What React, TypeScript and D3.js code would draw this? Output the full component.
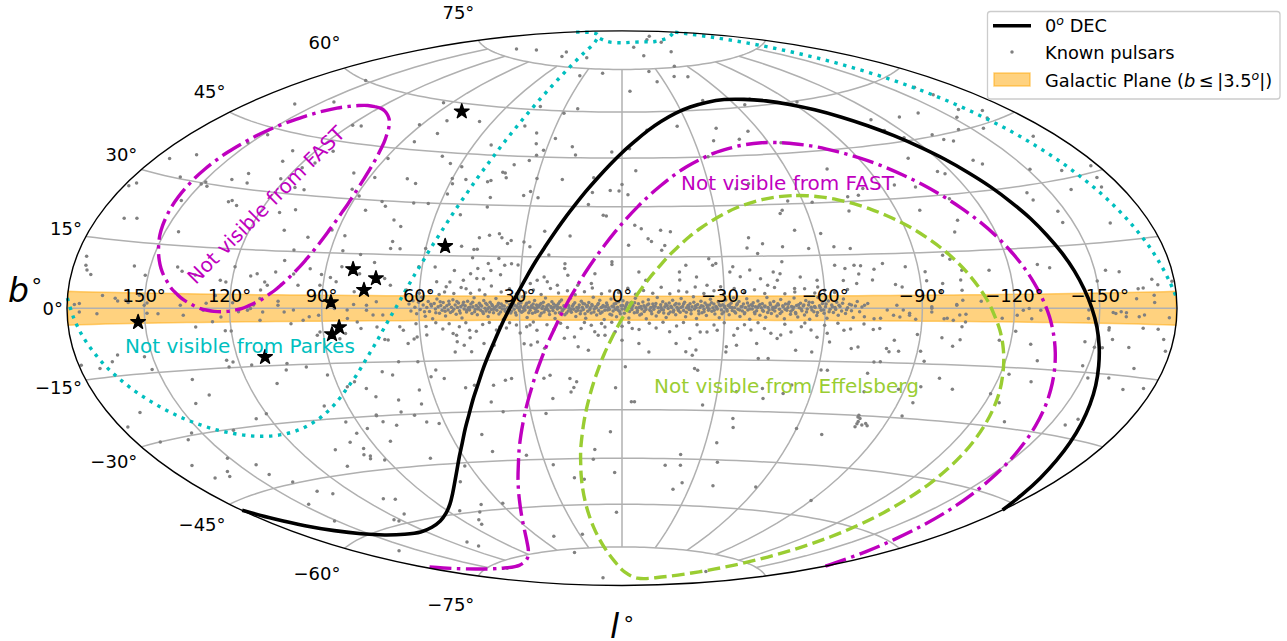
import React from "react";
import * as d3 from "d3";

type P = [number, number];

const decZero: P[] = [[-180,-46.7],[-175.6,-43],[-171.6,-39],[-168,-34.9],[-164.8,-30.7],[-161.8,-26.4],[-159.1,-22.1],[-156.5,-17.7],[-154,-13.3],[-151.7,-8.9],[-149.4,-4.4],[-147.1,0],[-144.8,4.4],[-142.5,8.9],[-140.1,13.3],[-137.6,17.7],[-135.1,22.1],[-132.3,26.4],[-129.4,30.7],[-126.1,34.9],[-122.6,39],[-118.5,43],[-114,46.8],[-108.8,50.4],[-102.7,53.8],[-95.7,56.8],[-87.5,59.3],[-78.2,61.2],[-67.9,62.4],[-57.1,62.9],[-46.2,62.4],[-35.9,61.2],[-26.6,59.3],[-18.5,56.8],[-11.4,53.8],[-5.4,50.4],[-0.1,46.8],[4.4,43],[8.4,39],[12,34.9],[15.2,30.7],[18.2,26.4],[20.9,22.1],[23.5,17.7],[26,13.3],[28.3,8.9],[30.6,4.4],[32.9,0],[35.2,-4.4],[37.5,-8.9],[39.9,-13.3],[42.4,-17.7],[44.9,-22.1],[47.7,-26.4],[50.6,-30.7],[53.9,-34.9],[57.4,-39],[61.5,-43],[66,-46.8],[71.2,-50.4],[77.3,-53.8],[84.3,-56.8],[92.5,-59.3],[101.8,-61.2],[112.1,-62.4],[122.9,-62.9],[133.8,-62.4],[144.1,-61.2],[153.4,-59.3],[161.5,-56.8],[168.6,-53.8],[174.6,-50.4],[179.9,-46.8]];

const fastSouth: P[] = [[-180,-68.5],[-177.6,-67.4],[-170.9,-63.4],[-165.6,-59.3],[-161.4,-55],[-157.9,-50.6],[-154.8,-46.3],[-152,-41.8],[-149.5,-37.4],[-147.1,-32.9],[-144.9,-28.5],[-142.8,-24.1],[-140.6,-19.6],[-138.5,-15.2],[-136.4,-10.8],[-134.3,-6.5],[-132.1,-2.1],[-129.8,2.1],[-127.4,6.3],[-124.9,10.5],[-122.2,14.6],[-119.4,18.6],[-116.3,22.5],[-112.9,26.2],[-109.2,29.8],[-105.2,33.2],[-100.8,36.4],[-95.9,39.4],[-90.5,42],[-84.6,44.2],[-78.3,46.1],[-71.5,47.4],[-64.4,48.3],[-57.1,48.6],[-49.8,48.3],[-42.7,47.4],[-35.9,46.1],[-29.5,44.2],[-23.6,42],[-18.3,39.4],[-13.4,36.4],[-8.9,33.2],[-4.9,29.8],[-1.2,26.2],[2.1,22.5],[5.2,18.6],[8.1,14.6],[10.8,10.5],[13.3,6.3],[15.7,2.1],[17.9,-2.1],[20.1,-6.5],[22.3,-10.8],[24.4,-15.2],[26.5,-19.6],[28.6,-24.1],[30.8,-28.5],[33,-32.9],[35.4,-37.4],[37.9,-41.8],[40.6,-46.3],[43.7,-50.6],[47.3,-55],[51.5,-59.3],[56.7,-63.4],[63.5,-67.4],[72.5,-71],[84.9,-74.1],[102,-76.3],[122.9,-77.2],[143.9,-76.3],[160.9,-74.1],[173.4,-71],[177.5,-69.5]];

const fastNorth: P[] = [[122.9,55.1],[118.8,55],[114.9,54.5],[111.1,53.7],[107.6,52.7],[104.4,51.4],[101.6,49.9],[99.1,48.1],[97,46.3],[95.3,44.3],[93.9,42.2],[92.8,40],[92,37.7],[91.5,35.4],[91.2,33.1],[91.1,30.7],[91.2,28.4],[91.6,26],[92.1,23.7],[92.8,21.5],[93.6,19.3],[94.6,17.1],[95.7,15.1],[97,13.1],[98.4,11.2],[100,9.4],[101.7,7.7],[103.4,6.2],[105.3,4.7],[107.3,3.5],[109.3,2.3],[111.5,1.4],[113.7,.6],[116,-.1],[118.3,-.5],[120.6,-.8],[122.9,-.9],[125.3,-.8],[127.6,-.5],[129.9,-.1],[132.2,.6],[134.4,1.4],[136.5,2.3],[138.6,3.5],[140.6,4.7],[142.4,6.2],[144.2,7.7],[145.9,9.4],[147.4,11.2],[148.8,13.1],[150.1,15.1],[151.3,17.1],[152.3,19.3],[153.1,21.5],[153.8,23.7],[154.3,26],[154.6,28.4],[154.8,30.7],[154.7,33.1],[154.4,35.4],[153.9,37.7],[153,40],[152,42.2],[150.6,44.3],[148.8,46.3],[146.7,48.1],[144.3,49.9],[141.5,51.4],[138.3,52.7],[134.8,53.7],[131,54.5],[127,55],[122.9,55.1]];

const effelsberg: P[] = [[-57.1,32.4],[-52,32.2],[-47,31.6],[-42.1,30.6],[-37.3,29.3],[-32.8,27.6],[-28.5,25.6],[-24.5,23.4],[-20.7,20.9],[-17.2,18.1],[-13.9,15.2],[-10.9,12],[-8,8.7],[-5.4,5.3],[-3,1.8],[-.7,-1.9],[1.4,-5.6],[3.4,-9.5],[5.3,-13.4],[7,-17.4],[8.6,-21.4],[10.1,-25.5],[11.5,-29.6],[12.8,-33.7],[14,-37.9],[15.2,-42.2],[16.1,-46.4],[17,-50.7],[17.7,-55],[18.2,-59.3],[18.4,-63.6],[18.2,-67.9],[17.3,-72.2],[15,-76.4],[9.5,-80.6],[-5.8,-84.5],[-57.1,-86.6],[-108.3,-84.5],[-123.7,-80.6],[-129.1,-76.4],[-131.4,-72.2],[-132.4,-67.9],[-132.6,-63.6],[-132.3,-59.3],[-131.8,-55],[-131.1,-50.7],[-130.3,-46.4],[-129.3,-42.2],[-128.2,-37.9],[-127,-33.7],[-125.7,-29.6],[-124.3,-25.5],[-122.8,-21.4],[-121.1,-17.4],[-119.4,-13.4],[-117.6,-9.5],[-115.6,-5.6],[-113.4,-1.9],[-111.2,1.8],[-108.7,5.3],[-106.1,8.7],[-103.3,12],[-100.2,15.2],[-96.9,18.1],[-93.4,20.9],[-89.6,23.4],[-85.6,25.6],[-81.3,27.6],[-76.8,29.3],[-72.1,30.6],[-67.2,31.6],[-62.2,32.2],[-57.1,32.4]];

const parkesA: P[] = [[180,2.1],[177.4,-2],[175,-5.6],[172.3,-9.1],[169.5,-12.4],[166.4,-15.5],[163.1,-18.5],[159.6,-21.2],[155.8,-23.8],[151.8,-26.1],[147.4,-28.1],[142.9,-29.8],[138.1,-31.1],[133.2,-32.1],[128.1,-32.7],[122.9,-32.9],[117.8,-32.7],[112.7,-32.1],[107.8,-31.1],[103,-29.8],[98.4,-28.1],[94.1,-26.1],[90.1,-23.8],[86.3,-21.2],[82.7,-18.5],[79.4,-15.5],[76.4,-12.4],[73.5,-9.1],[70.9,-5.6],[68.4,-2],[66.1,1.6],[64,5.4],[62,9.3],[60.1,13.2],[58.4,17.2],[56.7,21.2],[55.2,25.3],[53.8,29.4],[52.4,33.6],[51.2,37.8],[50,42.1],[49,46.3],[48.1,50.6],[47.3,54.9],[46.7,59.2],[46.3,63.6],[46.3,67.9],[46.9,72.2],[48.8,76.5],[53.4,80.8],[67.3,84.8],[122.9,87.1],[178.6,84.8]];
const parkesB: P[] = [[-180,84.5],[-167.5,80.8],[-162.9,76.5],[-161.1,72.2],[-160.5,67.9],[-160.4,63.6],[-160.8,59.2],[-161.4,54.9],[-162.2,50.6],[-163.1,46.3],[-164.2,42.1],[-165.3,37.8],[-166.6,33.6],[-167.9,29.4],[-169.4,25.3],[-170.9,21.2],[-172.5,17.2],[-174.3,13.2],[-176.1,9.3],[-178.1,5.4],[-180,2.1]];
const parkesC: P[] = [[76,86.2],[55,85.8],[31,85.3],[0,85.2],[-28.6,85.3],[-60,85],[-81.8,84.6],[-130,84.6],[-170,84.7]];

const highlighted: P[] = [[79.4,57.5],[54.1,17.7],[81.3,10.7],[73.7,8.3],[77,5],[87.1,1.6],[84.8,-5.2],[87.3,-7.1],[152.5,-3.2],[110.6,-12.7]];

const pulsarsOuter: P[] = [[160,50.9],[145,53.8],[148,43.3],[119,49.5],[115,49.7],[154,60],[85,47.3],[91,52.3],[129,40.8],[113,42.2],[128,37.9],[115,38.6],[118,37],[89,41.9],[174,33.5],[165,35.6],[151,40.6],[97,37.1],[136,33.8],[140,31.8],[122,33.6],[88,36.3],[76,36.6],[72,35.4],[161,30.4],[149,30.3],[150,29.7],[133,31.5],[147,29.4],[114,31.8],[110,31.4],[93,32.6],[89,30.9],[178,26.4],[176,27.3],[152,25.4],[134,26.5],[133,26.9],[130,25.8],[108,26],[113,25],[80,29.8],
[78,28.5],[84,27.1],[69,29.8],[64,29.8],[131,77.4],[112,78.7],[76,80],[71,78.4],[42,78.9],[-22,83.3],[-110,86.5],[-74,85.6],[-89,84],[-28,79.9],[-69,80.4],[-49,75.4],[-23,74.1],[-40,71.8],[-50,71.4],[16,73.5],[33,72.3],[-25,70.3],[-5,67.2],[94,59.3],[43,61.1],[23,60.9],[29,59.3],[-45,63.1],[-71,62.3],[-65,60.7],[-93,59.7],[81,54.3],[66,55],[44,54.6],[-25,55],[-38,50],[-42,53.9],[-11,53.9],[79,50.3],[37,52.5],[-55,52.4],[-49,50.1],
[28,51],[35,49.1],[20,48.5],[53,48.1],[-65,48.2],[4,46.9],[-3,48],[31,47.1],[33,45.5],[18,45.9],[69,43.8],[-33,45],[64,41.8],[59,41],[40,42.3],[35,43.8],[-5,41],[-75,39.6],[43,39.9],[42,39.7],[41,38.3],[55,37.3],[47,36.9],[46,37.3],[30,38.3],[21,38.2],[10,38.8],[60,37.4],[59,35.9],[0,36.8],[4,34.9],[1,34.8],[10,34.3],[-39,35],[-44,36.4],[59,32.8],[33,33.1],[31,34.3],[-2,33.6],[44,32.2],[28,32.5],[-63,30.2],
[-55,30.9],[-76,31.3],[-80,31.6],[11,30.6],[44,29.4],[-52,28.2],[-51,27.3],[-74,27.3],[6,27.4],[52,26.9],[-114,51.8],[-128,51.1],[-139,51],[-159,49.3],[-168,47.5],[-164,45.9],[-152,47.9],[-155,44.2],[-144,45.3],[-130,45.4],[-132,43.8],[-135,43],[-117,45.9],[-170,39.8],[-109,40.5],[-133,37.7],[-135,36.5],[-151,33.4],[-163,31.8],[-177,31.3],[-115,36.2],[-117,35.4],[-95,33.7],[-102,32.7],[-83,33.4],[-174,28.8],[-172,26.8],[-159,27.5],[-141,28.3],[-141,26.4],[-111,28.9],[-98,26.4],
[-147,23.1],[-162,56.2],[-162,53.6],[-113,48.5],[176,11],[175,9.1],[174,8.1],[172,7.2],[156,9.6],[169,19.8],[164,20.2],[145,18.2],[140,9.9],[138,8.9],[133,8.1],[108,20.5],[99,19],[92,21.2],[87,19.8],[73,24.7],[68,16.7],[70,23],[71,18.7],[102,15.4],[86,15.7],[80,14.8],[71,16.7],[60,16.9],[104,12.6],[100,9.1],[106,9.5],[112,8.9],[114,8.3],[120,10.5],[124,7],[122,6.6],[109,6.8],[108,6],[95,10.6],[91,9.1],[88,8.3],[86,7.2],[85,11.3],
[75,12.7],[61,11.7],[71,8.3],[79,9.5],[80,4.5],[110,4.7],[91,6.2],[98,6.1],[104,1.8],[110,2.5],[161,2.2],[160,1.6],[166,2.8],[151,7.6],[149,1.2],[152,3],[157,1.8],[175,1],[177,.8],[69,6.4],[175,-.8],[168,-1.2],[149,-1.2],[145,-1.3],[150,.7],[156,1.3],[137,.7],[136,-1.7],[129,-.5],[126,-3.4],[123,-2.2],[117,-.9],[113,-.1],[109,-1],[104,.8],[102,-1],[99,-.5],[96,-3.2],[94,-2.3],[91,-1.9],
[86,-.1],[82,-.5],[80,1],[76,.8],[74,-1.9],[73,1.8],[71,-1.9],[82,-2.8],[79,-3.8],[100,-4.1],[110,-3.1],[119,1.4],[125,3.2],[112,.8],[114,-.5],[128,1.2],[76,-.6],[122,-5.7],[71,-8.7],[120,-5.8],[132,-4.6],[66,-5.2],[70,-8.9],[64,-9.9],[62,-8.7],[61,-8.1],[65,-6.2],[58,-7.6],[73,-5.2],[78,-5.6],[92,-7.3],[91,-6.4],[85,-8.3],[83,-6.9],[104,-14.6],[105,-16.3],[98,-15.7],[124,-13.1],[124,-14.8],[122,-13.6],[116,-14.6],[139,-17.3],[136,-21.3],
[143,-23],[167,-23.3],[153,-11.2],[163,-10.4],[166,-11.8],[179,-11.9],[172,-13],[152,-14.2],[120,-27.2],[125,-28.2],[110,-19.7],[92,-18.1],[87,-21.5],[84,-20.2],[81,-22.2],[79,-24.6],[74,-17.7],[71,-18.7],[68,-15],[62,-15.1],[64,-23.2],[65,-27.2],[77,-32.9],[98,-26.4],[94,-31.1],[88,-33.3],[73,-29.2],[82,-29.7],[81,-31.7],[69,-30.3],[66,-32.4],[82,-29.9],[72,-25.8],[44,20.3],[41,21.1],[38,21.6],[37,20.4],[34,19.7],[35,18.8],[30,19.3],[28,17.9]];

const pulsarsMiddle: P[] = [[49,17.8],[45,16.9],[44,17],[45,14.5],[56,11.7],[50,10.8],[47,8],[45,9.9],[43,11.4],[40,12.9],[39,10.9],[37,14.4],[35,12.4],[33,12.9],[31,12.5],[36,9.7],[43,8.5],[41,8.5],[51,7.5],[55,7.5],[46,5.6],[52,6.1],[24,22.5],[22,15.5],[17,13],[17,11.6],[16,21.2],[5,27.2],[-4,24.4],[-6,23.4],[-8,20.4],[-9,19.6],[-12,22.9],[-13,18.4],[-2,18.5],[3,13.6],[3,12.8],[8,10.1],[16,9.6],[23,9.1],[22,7.7],
[19,6.7],[25,8.1],[27,7.2],[13,6.7],[9,7.2],[-5,10.6],[-7,8.2],[-12,17],[-19,12.5],[-17,10.6],[-17,8.2],[-22,9.1],[-26,14.4],[-28,13],[-27,12.5],[-33,12],[-32,10.5],[-25,6.7],[-29,6.2],[-39,20.4],[-38,17.4],[-43,18.6],[-49,17.6],[-54,22.3],[-57,17],[-64,12.1],[-67,11.1],[-70,12],[-47,9.9],[-38,11],[-41,8.5],[-46,8],[-53,8.9],[-58,7.9],[-62,21.2],[-65,17.3],[-70,16.7],[-41,15.8],[-48,13.3],
[-45,10.4],[-66,7.8],[-70,6.9],[-15,22.4],[-35,9.1],[-43,6.6],[-58,6],[-51,5.6],[50,-7.2],[49,-7.7],[49,-9.6],[45,-8.5],[45,-6.3],[50,-12.5],[45,-12.5],[47,-10.6],[41,-10.2],[38,-10.7],[36,-5.4],[37,-6.3],[34,-5.7],[31,-4.9],[28,-5.4],[27,-4.9],[25,-6.4],[29,-10.3],[27,-10.7],[25,-9.8],[23,-11.7],[17,-8.8],[14,-8.4],[12,-5.9],[9,-5],[8,-6.9],[5,-5.5],[7,-7.9],[13,-11.3],[10,-12.3],[5,-7.9],[0,-9.4],[-5,-10.3],
[-8,-12.8],[2,-6.9],[-3,-5.9],[-14,-6.9],[-16,-10.3],[-22,-12.2],[-21,-13.7],[-19,-12.7],[-23,-6.9],[-25,-6.9],[-31,-11.2],[-31,-12.7],[-34,-10.7],[-33,-7.8],[-34,-5.9],[-38,-6.3],[-40,-10.2],[-44,-14.5],[-41,-14.5],[-46,-8.7],[-47,-7.7],[-52,-12],[-57,-12.4],[-56,-6.2],[-61,-7.1],[-66,-6.2],[-69,-11.3],[-71,-10.8],[-27,-4.9],[-42,-5.8],[-53,-5.3],[-62,-9.5],[59,-19.5],[55,-20.1],[57,-17.6],[34,-20.4],[36,-20.9],[40,-22.3],
[46,-22.2],[49,-22.9],[24,-20.5],[15,-23.3],[14,-21.6],[16,-20.6],[22,-19.6],[16,-24.6],[22,-26.5],[25,-31],[42,-27.2],[39,-30.2],[62,-33],[-4,-27.6],[-3,-27.6],[2,-23.4],[-1,-17.2],[-22,-17.6],[-23,-18.1],[-26,-28.4],[-36,-24.3],[-44,-23.2],[-61,-17.5],[-63,-17.5],[-53,-22],[-51,-24.5],[-45,-26.1],[-37,-32.3],[-79,-30.4],[-80,-32.3],[-80,-33.2],[-77,-23.3],[-88,-22.2],[-109,23.1],[-106,20.1],[-146,20.4],[-164,19.1],[-76,-18.1],[-77,-14.9],[-99,14.1],
[-101,13],[-72,11.8],[-76,10.8],[-79,12.3],[-86,11.3],[-92,9.8],[-113,9.8],[-104,10],[-103,7.4],[-92,7.4],[-130,10.8],[-134,9.9],[-154,8.7],[-159,8.2],[-150,6.3],[-171,6.2],[-173,5],[-179,5.6],[-165,4.3],[-167,4.4],[-97,6.6],[-84,5.8],[-82,6.5],[-75,7.8],[-71,9.5],[-103,4.7],[-96,4.4],[-93,0],[-101,1],[-103,2.1],[-109,1.8],[-164,2.1],[-171,1.2],[-171,2.8],[-72,.8],[-73,1.3],[-79,-.5],[-82,.8],[-84,-.5],[-86,-1.4],
[-81,-1.9],[-77,-2.8],[-75,-2.9],[-72,-2.4],[-83,-2.4],[-86,-1.9],[-88,-3],[-93,-1],[-93,.4],[-97,-2.8],[-98,-2.7],[-100,-3.2],[-101,.8],[-102,-1.8],[-104,-1.6],[-104,-3.6],[-116,-2.6],[-121,-1.8],[-123,-.5],[-125,-.1],[-126,-2.6],[-129,-.5],[-146,-.4],[-155,-1],[-156,-1.2],[-158,-.8],[-160,-1],[-160,-1.9],[-165,-1.9],[-167,-1.5],[-177,-2],[-146,-2.4],[-75,-5.9],[-77,-5.6],[-82,-8.8],[-81,-12],[-80,-11.1],[-84,-11.8],[-89,-7.1],
[-91,-11.6],[-97,-7.9],[-101,-10.1],[-103,-8.3],[-103,-4.9],[-116,-8.2],[-121,-5.8],[-127,-9],[-146,-7.9],[-150,-9.1],[-153,-9.1],[-154,-4.5],[-154,-5],[-156,-7.1],[-163,-8.7],[-167,-4.4],[-173,-4.5],[-176,-6.6],[-178,-9],[-93,-14.3],[-79,-14.8],[-131,-13],[-148,-13.5],[-168,-13.2],[-160,-15.8],[-152,-16.2],[-123,-16.7],[-132,-18.2],[-100,-18.7],[-106,-21.4],[-95,-21.2],[-176,-17.1],[-168,-17.9],[-120,-21.9],[-125,-24],[-95,-25.6],[-94,-29.4],[-159,-25.6],[-156,-27.3],[-80,-30.8],[-83,-32.1],
[-82,-32.6],[-80,-31.7],[-84,-32.7],[-79,-29.9],[-132,-28.5],[177,-25.7],[170,-30],[158,-30.8],[169,-36.1],[154,-29.5],[137,-30.3],[151,-36.4],[158,-39.1],[160,-40.2],[167,-39.7],[143,-39.1],[143,-41.8],[138,-44.6],[134,-47.9],[129,-49.2],[147,-50.2],[106,-38.3],[108,-43],[96,-41.7],[91,-42.4],[93,-34.4],[98,-36.7],[83,-37.3],[95,-38.7],[97,-40.4],[95,-40.9],[111,-52.8],[106,-53.4],[113,-57.6],[123,-58.5],[122,-59.1],[151,-55.1],
[160,-65],[49,-36.8],[48,-42],[73,-43],[62,-46],[69,-50.6],[36,-43.6],[27,-46.8],[20,-51.1],[16,-51.6],[10,-42.2],[11,-45.3],[4,-36.7],[3,-49.5],[3,-62.7],[-17,-47.1],[-23,-47],[-22,-43.6],[-34,-39.7],[-37,-45.7],[-38,-35],[-60,-34.6],[-70,-36],[-26,-52.6],[-23,-54.8],[-40,-53.2],[-59,-52.8],[-90,-55.2],[70,-58],[84,-59.1],[75,-60.2],[81,-62.5],[83,-63.9],[59,-58.2],[111,-68.1],[110,-69.8],[49,-70.2],[28,-70.1],[47,-76.3],[140,-76.8],[66,-86.3],[-129,-80]];

const pulsarsPlane: P[] = [[63,1.2],[62.4,-.8],[61.8,2.1],[61.2,.3],[60.7,-1.6],[60.1,1.7],[59.6,-.4],[59.2,3.1],[58.7,.9],[58.1,-2.3],[57.6,.2],[57.2,1.9],[56.8,-.9],[56.2,.6],[55.9,-3],[55.4,1.3],[55,-.2],[54.6,2.6],[54.2,.4],[53.8,-1.4],[53.4,.8],[53,-.6],[52.7,1.6],[52.3,.1],[52,-2.2],[51.6,.7],[51.2,-.5],[50.9,1.1],[50.5,-1.2],[50.2,.3],[49.8,2.4],[49.5,-.3],[49.1,.9],[48.8,-1.7],[48.4,.2],[48.1,1.5],[47.8,-.7],[47.4,.5],[47.1,-2.8],[46.8,1],[46.4,-.2],[46.1,.7],[45.7,-1.1],[45.4,2],[45.1,.1],[44.8,-.5],[44.4,1.2],[44.1,-1.5],[43.8,.4],[43.5,3],[43.1,-.3],[42.8,.8],[42.5,-1.9],[42.2,.2],[41.9,1.4],[41.5,-.6],[41.2,.6],[40.9,-1],[40.6,2.2],[40.2,0],[39.9,-.8],[39.6,1],[39.3,-2.4],[39,.3],[38.7,1.7],[38.3,-.4],[38,.7],[37.7,-1.3],[37.4,.1],[37,2.8],[36.7,-.6],[36.4,.9],[36.1,-1.7],[35.8,.2],[35.4,1.2],[35.1,-.2],[34.8,-3.2],[34.5,.6],[34.2,-.9],[33.8,1.8],[33.5,.1],[33.2,-.5],[32.9,1.1],[32.6,-1.4],[32.2,.4],[31.9,2.5],[31.6,-.3],[31.3,.8],[31,-2],[30.6,.2],[30.3,1.3],[30,-.7],[29.7,.5],[29.4,-1.2],[29.1,3.3],[28.8,0],[28.4,-.5],[28.1,1],[27.8,-2.7],[27.5,.3],[27.2,1.7],[26.9,-.6],[26.5,.7],[26.2,-1.5],[25.9,.1],[25.6,2.2],[25.3,-.3],[25,.9],[24.7,-.9],[24.3,.4],[24,-2.2],[23.7,1.4],[23.4,-.1],[23.1,.6],[22.8,-1.1],[22.4,3],[22.1,.2],[21.8,-.4],[21.5,1],[21.2,-1.8],[20.8,.5],[20.5,1.9],[20.2,-.7],[19.9,.3],[19.6,-3],[19.3,.8],[18.9,-.2],[18.6,1.3],[18.3,-1.3],[18,.1],[17.7,2.4],[17.3,-.5],[17,.7],[16.7,-1.9],[16.4,.4],[16.1,1.1],[15.7,-.8],[15.4,0],[15.1,2.9],[14.8,-1.2],[14.5,.6],[14.1,-.3],[13.8,1.6],[13.5,-2.4],[13.2,.2],[12.9,-.6],[12.5,.9],[12.2,-1.6],[11.9,2],[11.6,.3],[11.3,-.4],[10.9,1.2],[10.6,-2.9],[10.3,.5],[10,-.9],[9.7,1.7],[9.3,.1],[9,-1.4],[8.7,.7],[8.4,3.2],[8.1,-.2],[7.7,.4],[7.4,-2],[7.1,1],[6.8,-.7],[6.5,2.3],[6.1,.2],[5.8,-1.1],[5.5,.8],[5.2,-3.3],[4.8,.4],[4.5,1.5],[4.2,-.5],[3.9,.1],[3.5,-1.8],[3.2,2.7],[2.9,.6],[2.6,-.8],[2.3,1.2],[1.9,-.3],[1.6,-2.5],[1.3,.3],[1,1.9],[.7,-1],[.3,.7],[0,-.2],[-.3,2.2],[-.7,-1.5],[-1,.4],[-1.3,1.1],[-1.6,-.6],[-2,-2.9],[-2.3,.2],[-2.6,1.6],[-2.9,-.4],[-3.2,.8],[-3.6,-1.3],[-3.9,2.9],[-4.2,.1],[-4.5,-.7],[-4.8,1.3],[-5.2,-2],[-5.5,.5],[-5.8,-.2],[-6.1,1.8],[-6.5,-1],[-6.8,.3],[-7.1,-3.1],[-7.4,.9],[-7.7,2.5],[-8.1,-.5],[-8.4,.2],[-8.7,-1.6],[-9,1.2],[-9.3,-.3],[-9.7,.6],[-10,-2.3],[-10.3,3.1],[-10.6,.1],[-10.9,-.9],[-11.3,1],[-11.6,-.4],[-11.9,1.9],[-12.2,-1.4],[-12.5,.4],[-12.9,-2.7],[-13.2,.7],[-13.5,-.1],[-13.8,1.5],[-14.1,-1.1],[-14.5,.2],[-14.8,2.3],[-15.1,-.6],[-15.4,.9],[-15.7,-1.9],[-16.1,.3],[-16.4,-.3],[-16.7,1.2],[-17,-1.2],[-17.3,2.8],[-17.7,.5],[-18,-.7],[-18.3,1.7],[-18.6,-2.5],[-18.9,.1],[-19.3,.8],[-19.6,-.4],[-19.9,1.3],[-20.2,-1.6],[-20.5,.4],[-20.9,3.3],[-21.2,-.2],[-21.5,.7],[-21.8,-3],[-22.1,1.1],[-22.4,-.8],[-22.8,.2],[-23.1,2],[-23.4,-1.3],[-23.7,.6],[-24,-.3],[-24.3,1.5],[-24.7,-2.1],[-25,.3],[-25.3,-.6],[-25.6,.9],[-25.9,2.6],[-26.3,-.9],[-26.6,.1],[-26.9,1.2],[-27.2,-1.7],[-27.5,.5],[-27.9,-.2],[-28.2,1.8],[-28.5,-2.8],[-28.8,.7],[-29.1,-.5],[-29.5,1],[-29.8,-1.1],[-30.1,.2],[-30.4,2.4],[-30.7,-.4],[-31.1,.8],[-31.4,-1.9],[-31.7,.3],[-32,1.5],[-32.3,-.7],[-32.7,3],[-33,.1],[-33.3,-1.4],[-33.6,.9],[-34,-.3],[-34.3,1.9],[-34.6,-2.4],[-34.9,.4],[-35.3,-.8],[-35.6,1.2],[-35.9,-1.6],[-36.2,.2],[-36.6,2.7],[-36.9,-.5],[-37.2,.6],[-37.5,-3.2],[-37.9,1],[-38.2,-.2],[-38.5,1.6],[-38.9,-1.2],[-39.2,.4],[-39.5,-.7],[-39.9,2.1],[-40.2,.7],[-40.5,-2],[-40.9,.1],[-41.2,1.3],[-41.5,-.9],[-41.9,.5],[-42.2,-2.6],[-42.6,3.1],[-42.9,.2],[-43.2,-.5],[-43.6,1],[-43.9,-1.5],[-44.3,.3],[-44.6,1.9],[-44.9,-.8],[-45.3,.6],[-45.6,-2.2],[-46,.9],[-46.3,-.3],[-46.7,2.5],[-47,-1],[-47.4,.4],[-47.8,-3],[-48.1,1.2],[-48.5,-.6],[-48.8,.2],[-49.2,1.7],[-49.6,-1.7],[-49.9,.5],[-50.3,-.4],[-50.7,2.9],[-51.1,-1.2],[-51.4,.8],[-51.8,-2.5],[-52.2,.1],[-52.6,1.4],[-53,-.7],[-53.4,.6],[-53.8,-1.9],[-54.2,2.2],[-54.6,-.2],[-55,.9],[-55.4,-3.1],[-55.8,.3],[-56.2,1.6],[-56.6,-1],[-57,.2],[-57.5,-2.1],[-57.9,3],[-58.3,.7],[-58.8,-.6],[-59.2,1.3],[-59.7,-1.4],[-60.1,.4],[-60.6,-2.8],[-61,2],[-61.5,-.3],[-62,.9],[-62.5,-1.2],[-63,.2],[-63.5,1.7],[-64,-2],[-64.5,.5],[-65,-.8],[-65.6,2.6],[-66.2,-1.5],[-66.8,.1],[-67.4,1.1],[-68,-.7],[-68.6,-2.6],[-69.2,.6],[-69.8,1.9],[-70.5,-1],[-71.2,.3]];

const pulsarsPlaneDense: P[] = [[58.3,-1],[56.4,1.1],[54.9,-1.3],[53.6,1.8],[52.1,-.9],[51,2],[49.9,-.9],[48.6,1.9],[47.6,-1.4],[46.6,1.7],[45.6,-.6],[44.7,.3],[43.9,1.7],[43.3,-1],[42.3,-.2],[41.6,.9],[40.7,-1.5],[40,1.4],[39.4,-.2],[38.9,-1.1],[38.2,1.1],[37.6,-.3],[36.9,.5],[36.2,1.4],[35.6,-1.1],[35,.7],[34.4,-.3],[33.7,-1.6],[33,.3],[32.4,-.9],[31.8,1.2],[31.2,-1.3],[30.8,.6],[30.1,-.2],[29.6,1.5],[29,-.9],[28.6,.4],[27.9,1.4],[27.3,-1.3],[26.7,.2],[26,1.2],[25.4,-1.2],[24.9,.2],[24.1,.9],[23.6,-1.5],[23,1.7],[22.5,-.4],[21.9,.7],[21.3,-.9],[20.6,.1],[20,1.2],[19.5,-1.4],[18.8,.4],[18.2,1.9],[17.5,-.8],[16.9,-.1],[16.2,-1.4],[15.6,.8],[14.9,-.4],[14.2,1.1],[13.4,-.9],[12.7,.2],[12,-.8],[11.4,1.4],[10.8,-1.6],[10.1,.8],[9.4,-.4],[8.8,1.1],[8.2,-1.1],[7.5,.1],[6.9,1.4],[6.3,-1.5],[5.7,.4],[5,-.6],[4.3,.9],[3.7,-.4],[3,-2],[2.4,.4],[1.8,1.4],[1.1,-.6],[.5,-1.6],[-.2,.8],[-.9,-.3],[-1.5,1.6],[-2.2,-1],[-3,.5],[-3.7,1.6],[-4.4,-1.2],[-5,.2],[-5.7,-1.7],[-6.4,.7],[-7,-.4],[-7.8,1.2],[-8.5,-.9],[-9.2,.5],[-9.9,1.4],[-10.7,-1.2],[-11.4,.3],[-12.1,-.5],[-12.8,1.2],[-13.6,-1.6],[-14.3,.6],[-15,-1.1],[-15.8,1.4],[-16.5,-.7],[-17.2,.2],[-18,1.2],[-18.8,-1.2],[-19.5,.4],[-20.2,-.6],[-21,1.7],[-21.7,.2],[-22.5,-1.6],[-23.2,.7],[-24,-1],[-24.8,.9],[-25.5,-.2],[-26.2,1.6],[-27,-.6],[-27.7,.2],[-28.5,1],[-29.3,-1.6],[-30,.6],[-30.8,-.8],[-31.5,1],[-32.2,.2],[-33,-1],[-33.8,1.3],[-34.5,-.5],[-35.2,.5],[-36,-1.3],[-36.8,1.5],[-37.5,-.2],[-38.3,.7],[-39,-1.6],[-39.8,.2],[-40.5,1.1],[-41.3,-.6],[-42,.6],[-42.8,-1.2],[-43.5,1.5],[-44.3,-.4],[-45,.2],[-45.8,1.3],[-46.5,-1.5],[-47.3,.7],[-48,-.3],[-48.9,1.1],[-49.7,-.9],[-50.5,.3],[-51.2,-1.6],[-52,1],[-52.8,-.2],[-53.6,.9],[-54.4,-1.1],[-55.2,1.7],[-56,-.5],[-56.8,.5],[-57.7,-1.2],[-58.5,.2],[-59.5,-.5],[-60.3,1.2],[-61.2,-1],[-62.2,.4],[-63.2,-.4],[-64.2,.8],[-65.3,1.4],[-66.5,-.4],[-68,.9]];

const pulsarsNearPlane: P[] = [[64,5.1],[60,4.2],[57,4.8],[54,3.9],[52.4,4.6],[49.6,4.2],[47.5,5.9],[44.6,4.3],[42,5.2],[40.3,3.9],[38.5,6.4],[35.5,4.7],[33.1,5.6],[31,4.1],[28.3,4.5],[26,5.3],[23.7,4],[21,5.7],[18.6,4.4],[16,5.1],[13.7,3.9],[11,4.8],[8.7,5.9],[6,4.2],[3.6,5],[1,4.6],[-1.7,5.8],[-4,4.1],[-6.3,5.2],[-9,4.4],[-11.5,6.1],[-14,4.2],[-16.6,5],[-19,4.7],[-21.5,6.2],[-24,4.3],[-27,5.1],[-30,4.2],[-33,5.7],[-36,4.5],[-39,5.3],[-42,4.2],[-45,5.9],[-48,4.1],[-51,4.6],[-54,5.5],[-57,4.3],[-60,5.1],[-63,4.4],[-67,5.2],[61,-4.4],[58,-5.2],[55,-4.1],[53,-5.9],[51,-4.4],[48,-5.3],[46,-4.2],[43,-6.6],[41,-4.7],[39,-4.1],[33,-4.2],[30,-7.2],[26,-4],[22,-4.8],[20,-6.2],[18,-4.4],[16,-5.6],[11,-4.2],[6,-4.5],[3,-4.1],[0,-5.3],[-2,-4.2],[-5,-6.2],[-8,-4.4],[-10,-5.8],[-12,-4.1],[-16,-5.2],[-18,-4.2],[-20,-8.8],[-22,-4.8],[-28,-6.4],[-30,-4.2],[-36,-4.8],[-40,-4.2],[-44,-7.2],[-48,-4.6],[-50,-6.8],[-54,-4.2],[-58,-8.2],[-60,-4.8],[-64,-4.2],[-68,-5.8],[-72,-4.4]];

const lonTicks = [150, 120, 90, 60, 30, 0, -30, -60, -90, -120, -150];
const latTicks = [75, 60, 45, 30, 15, 0, -15, -30, -45, -60, -75];
const DEG = Math.PI / 180;
const GRID = "#b0b0b0";
const MAGENTA = "#bf00bf";
const CYAN = "#00bfbf";
const GREEN = "#9acd32";
const ORANGE = "#ffa500";
const FONT = "'DejaVu Sans'";

const xS = d3.scaleLinear().domain([-1, 1]).range([622 + 555, 622 - 555]);
const yS = d3.scaleLinear().domain([-1, 1]).range([308.2 + 277.3, 308.2 - 277.3]);
function hammer(l: number, b: number): P {
  const c = Math.cos(b * DEG), d = Math.sqrt(1 + c * Math.cos((l * DEG) / 2));
  return [(c * Math.sin((l * DEG) / 2)) / d, Math.sin(b * DEG) / d];
}
const px = (d: P) => xS(hammer(d[0], d[1])[0]);
const py = (d: P) => yS(hammer(d[0], d[1])[1]);
const smooth = d3.line<P>().x(px).y(py).curve(d3.curveCatmullRom.alpha(0.5));
const straight = d3.line<P>().x(px).y(py);

const meridians = lonTicks.map((l) => d3.range(-75, 75.1, 3).map((b): P => [l, b]));
const parallels = latTicks.map((b) => d3.range(-180, 180.1, 4).map((l): P => [l, b]));
const bandTop = d3.range(-180, 180.1, 5).map((l): P => [l, 3.5]);
const bandBottom = d3.range(180, -180.1, -5).map((l): P => [l, -3.5]);
const star = d3.symbol().type(d3.symbolStar).size(66)();
const allPulsars = [...pulsarsOuter, ...pulsarsMiddle, ...pulsarsPlane, ...pulsarsPlaneDense, ...pulsarsNearPlane];

const W = 3.4;
const dashDot = `${6.4 * W} ${1.6 * W} ${W} ${1.6 * W}`;
const dashed = `${3.7 * W} ${1.6 * W}`;
const dotted = `${W} ${1.65 * W}`;

export default function App() {
  return (
    <svg width={1287} height={641} style={{ position: "absolute", left: 0, top: 0, fontFamily: FONT }}>
      <rect width={1287} height={641} fill="#fff" />
      <path d={straight([...bandTop, ...bandBottom])! + "Z"} fill={ORANGE} fillOpacity={0.5} stroke={ORANGE} strokeOpacity={0.5} strokeWidth={1.5} />
      <g fill="none" stroke={GRID} strokeWidth={1.5}>
        {meridians.map((m, i) => <path key={i} d={straight(m)!} />)}
        {parallels.map((m, i) => <path key={i} d={straight(m)!} />)}
      </g>
      <g fill="#808080">
        {allPulsars.map((d, i) => <circle key={i} cx={px(d)} cy={py(d)} r={1.75} />)}
      </g>
      <g fill="none">
        <path d={smooth(parkesA)!} stroke={CYAN} strokeWidth={W} strokeDasharray={dotted} />
        <path d={smooth(parkesB)!} stroke={CYAN} strokeWidth={W} strokeDasharray={dotted} />
        <path d={smooth(parkesC)!} stroke={CYAN} strokeWidth={W} strokeDasharray={dotted} />
        <path d={smooth(effelsberg)!} stroke={GREEN} strokeWidth={W} strokeDasharray={dashed} />
        <path d={smooth(fastSouth)!} stroke={MAGENTA} strokeWidth={W} strokeDasharray={dashDot} />
        <path d={smooth(fastNorth)!} stroke={MAGENTA} strokeWidth={W} strokeDasharray={dashDot} />
        <path d={smooth(decZero)!} stroke="#000" strokeWidth={3.6} />
      </g>
      {highlighted.map((d, i) => <path key={i} d={star!} transform={`translate(${px(d)},${py(d)})`} fill="#000" stroke="#000" strokeWidth={1.4} strokeLinejoin="round" />)}
      <ellipse cx={622} cy={308.2} rx={555} ry={277.3} fill="none" stroke="#000" strokeWidth={1.4} />

      <g fontSize={18} fill="#000">
        {lonTicks.map((l) => (
          <text key={l} x={px([l, 0])} y={302} textAnchor="middle">{(l < 0 ? "\u2212" + -l : l) + "\u00b0"}</text>
        ))}
        {latTicks.map((b) => (
          <text key={b} x={px([180, b])! - 4} y={308.2 - 306.5 * Math.sin(b * DEG) + 6.5} textAnchor="end">{(b < 0 ? "\u2212" + -b : b) + "\u00b0"}</text>
        ))}
      </g>

      <text x={8} y={302} fontSize={33} fontStyle="italic">b</text>
      <text x={31.5} y={293.5} fontSize={21}>°</text>
      <text x={610} y={638} fontSize={33} fontStyle="italic">l</text>
      <text x={623.5} y={631.5} fontSize={21}>°</text>

      <g fontSize={20}>
        <text x={125} y={353} fill={CYAN}>Not visible from Parkes</text>
        <text x={681} y={190} fill={MAGENTA}>Not visible from FAST</text>
        <text x={654} y={393} fill={GREEN}>Not visible from Effelsberg</text>
        <text transform="translate(266,205) rotate(-45)" textAnchor="middle" dominantBaseline="central" fill={MAGENTA}>Not visible from FAST</text>
      </g>

      <g>
        <rect x={987.5} y={11.5} width={292.5} height={87.5} rx={3} fill="#fff" fillOpacity={0.8} stroke="#ccc" strokeWidth={1.3} />
        <line x1={993} x2={1031} y1={25.7} y2={25.7} stroke="#000" strokeWidth={3.6} />
        <circle cx={1012} cy={52} r={1.75} fill="#808080" />
        <rect x={994} y={73} width={36} height={13} fill={ORANGE} fillOpacity={0.5} stroke={ORANGE} strokeOpacity={0.5} strokeWidth={1.5} />
        <g fontSize={17.8} fill="#000">
          <text x={1045} y={32}>0<tspan dy={-7} fontSize={12.5} fontStyle="italic">o</tspan><tspan dy={7}> DEC</tspan></text>
          <text x={1045} y={59}>Known pulsars</text>
          <text x={1045} y={86.5}>Galactic Plane (<tspan fontStyle="italic">b</tspan>{"\u2009≤\u2009"}|3.5<tspan dy={-7} fontSize={12.5} fontStyle="italic">o</tspan><tspan dy={7}>|)</tspan></text>
        </g>
      </g>
    </svg>
  );
}
